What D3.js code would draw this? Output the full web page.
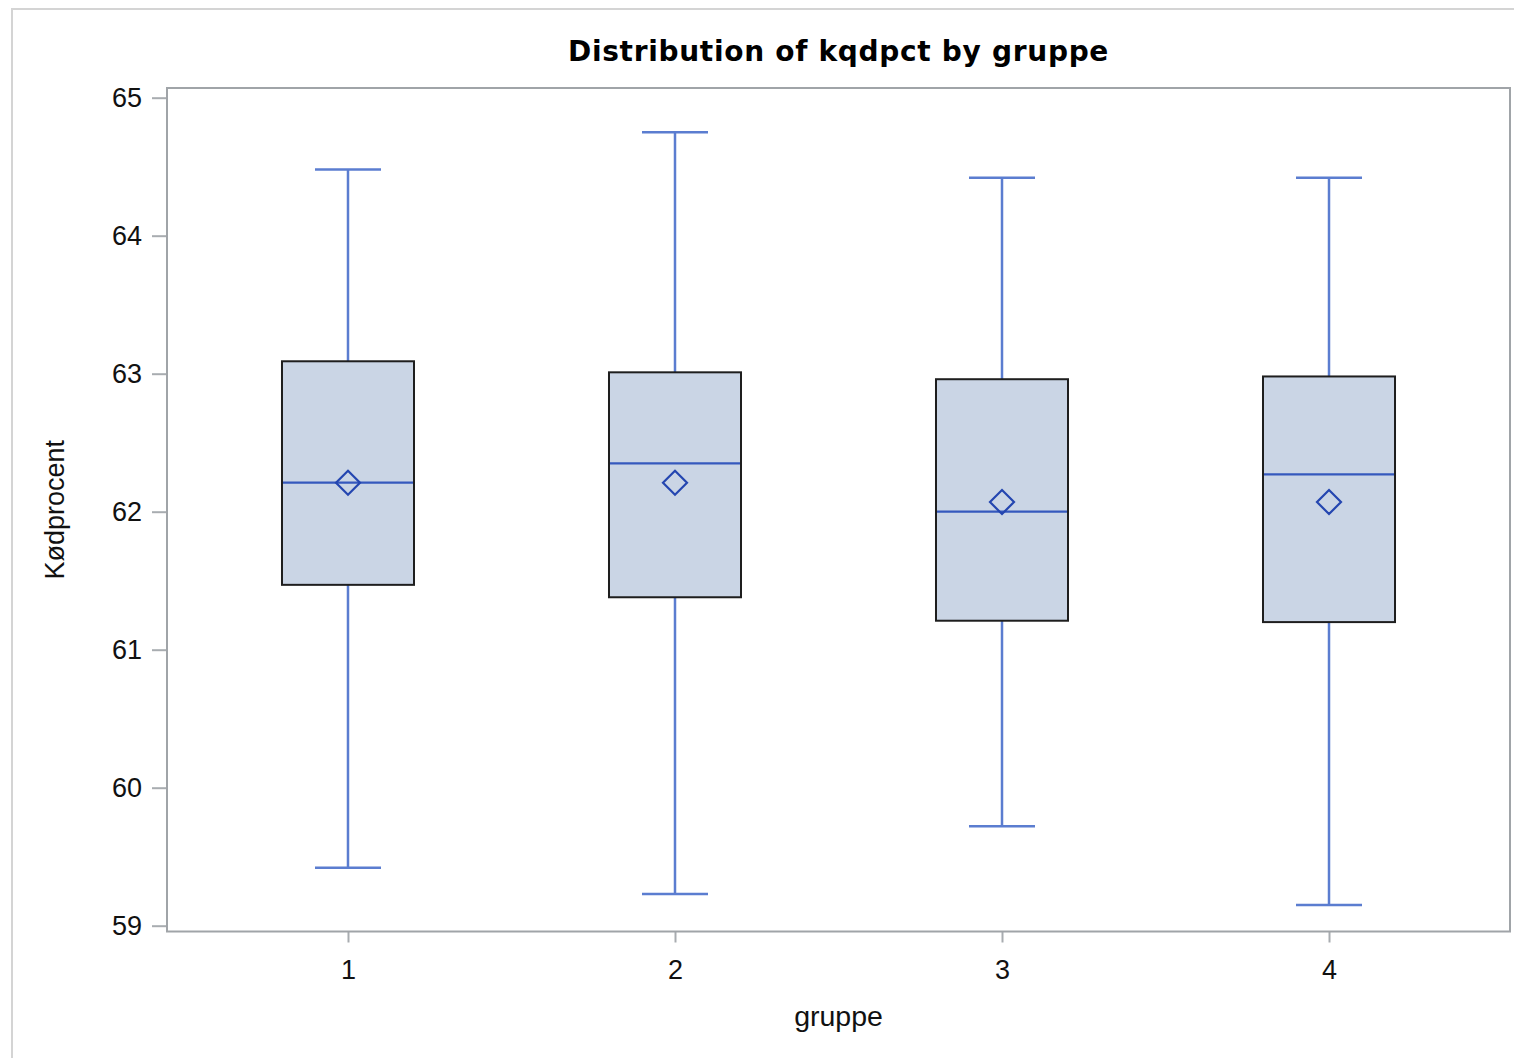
<!DOCTYPE html>
<html>
<head>
<meta charset="utf-8">
<script src="https://cdn.jsdelivr.net/npm/d3@7"></script>
<style>
  html, body { margin: 0; padding: 0; background: #fff; }
  svg { display: block; }
</style>
</head>
<body>
<svg id="chart" width="1514" height="1058"></svg>
<script>
const groups   = ["1", "2", "3", "4"];
const whiskLo  = [59.42, 59.23, 59.72, 59.15];
const q1       = [61.47, 61.38, 61.21, 61.20];
const medians  = [62.21, 62.35, 62.00, 62.27];
const q3       = [63.09, 63.01, 62.96, 62.98];
const whiskHi  = [64.48, 64.75, 64.42, 64.42];
const means    = [62.21, 62.21, 62.07, 62.07];
const yTicks   = [59, 60, 61, 62, 63, 64, 65];

const title = "Distribution of kqdpct by gruppe";
const xLabel = "gruppe";
const yLabel = "Kødprocent";

const svg = d3.select("#chart");
const W = 1514, H = 1058;
const frame = { left: 167, right: 1510, top: 88, bottom: 931.5 };

// outer border
svg.append("rect")
  .attr("x", 12).attr("y", 9)
  .attr("width", W).attr("height", H)
  .attr("fill", "none").attr("stroke", "#d4d4d4").attr("stroke-width", 2);

const x = d3.scalePoint().domain(groups).range([frame.left, frame.right]).padding(0.5535);
const y = d3.scaleLinear().domain([59, 65]).range([925.7, 97.7]);
const step = x.step();
const boxW = step * 0.4037;
const capW = boxW / 2;

const data = groups.map((g, i) => ({
  g, lo: whiskLo[i], q1: q1[i], med: medians[i], q3: q3[i], hi: whiskHi[i], mean: means[i]
}));

const font = "'Liberation Sans', Arial, sans-serif";

// title
svg.append("text")
  .attr("x", (frame.left + frame.right) / 2).attr("y", 61)
  .attr("text-anchor", "middle")
  .attr("font-family", "'DejaVu Sans', sans-serif")
  .attr("font-weight", "bold").attr("font-size", 28)
  .attr("letter-spacing", 0.7)
  .attr("fill", "#000")
  .text(title);

// axes
const yAxis = d3.axisLeft(y).tickValues(yTicks).tickSize(15).tickPadding(10).tickFormat(d3.format("d"));
const gy = svg.append("g").attr("transform", `translate(${frame.left},0)`).call(yAxis);
gy.select(".domain").remove();
gy.selectAll(".tick line").attr("stroke", "#a8acb0").attr("stroke-width", 2);
gy.selectAll(".tick text").attr("font-family", font).attr("font-size", 27).attr("fill", "#111");

const xAxis = d3.axisBottom(x).tickSize(11).tickPadding(17);
const gx = svg.append("g").attr("transform", `translate(0,${frame.bottom})`).call(xAxis);
gx.select(".domain").remove();
gx.selectAll(".tick line").attr("stroke", "#a8acb0").attr("stroke-width", 2);
gx.selectAll(".tick text").attr("font-family", font).attr("font-size", 27).attr("fill", "#111");

// frame
svg.append("rect")
  .attr("x", frame.left).attr("y", frame.top)
  .attr("width", frame.right - frame.left).attr("height", frame.bottom - frame.top)
  .attr("fill", "none").attr("stroke", "#a0a4a8").attr("stroke-width", 2);

// axis labels
svg.append("text")
  .attr("x", (frame.left + frame.right) / 2).attr("y", 1026)
  .attr("text-anchor", "middle")
  .attr("font-family", font).attr("font-size", 28.5).attr("fill", "#111")
  .text(xLabel);

svg.append("text")
  .attr("transform", `translate(64,${(frame.top + frame.bottom) / 2}) rotate(-90)`)
  .attr("text-anchor", "middle")
  .attr("font-family", font).attr("font-size", 27).attr("fill", "#111")
  .text(yLabel);

const whiskColor = "#5b7dd0";
const medColor = "#3558bd";
const meanColor = "#2446b0";

const gBox = svg.append("g");
const b = gBox.selectAll("g.box").data(data).join("g").attr("class", "box");

// whiskers
b.append("line")
  .attr("x1", d => x(d.g)).attr("x2", d => x(d.g))
  .attr("y1", d => y(d.hi)).attr("y2", d => y(d.q3))
  .attr("stroke", whiskColor).attr("stroke-width", 2.5);
b.append("line")
  .attr("x1", d => x(d.g)).attr("x2", d => x(d.g))
  .attr("y1", d => y(d.q1)).attr("y2", d => y(d.lo))
  .attr("stroke", whiskColor).attr("stroke-width", 2.5);
// caps
b.append("line")
  .attr("x1", d => x(d.g) - capW / 2).attr("x2", d => x(d.g) + capW / 2)
  .attr("y1", d => y(d.hi)).attr("y2", d => y(d.hi))
  .attr("stroke", whiskColor).attr("stroke-width", 2.5);
b.append("line")
  .attr("x1", d => x(d.g) - capW / 2).attr("x2", d => x(d.g) + capW / 2)
  .attr("y1", d => y(d.lo)).attr("y2", d => y(d.lo))
  .attr("stroke", whiskColor).attr("stroke-width", 2.5);

// box
b.append("rect")
  .attr("x", d => x(d.g) - boxW / 2).attr("width", boxW)
  .attr("y", d => y(d.q3)).attr("height", d => y(d.q1) - y(d.q3))
  .attr("fill", "#cad5e5").attr("stroke", "#1e1e1e").attr("stroke-width", 2);

// median
b.append("line")
  .attr("x1", d => x(d.g) - boxW / 2 + 1).attr("x2", d => x(d.g) + boxW / 2 - 1)
  .attr("y1", d => y(d.med)).attr("y2", d => y(d.med))
  .attr("stroke", medColor).attr("stroke-width", 2.2);

// mean diamond
const ds = 12;
b.append("path")
  .attr("d", d => {
    const cx = x(d.g), cy = y(d.mean);
    return `M${cx},${cy - ds}L${cx + ds},${cy}L${cx},${cy + ds}L${cx - ds},${cy}Z`;
  })
  .attr("fill", "none").attr("stroke", meanColor).attr("stroke-width", 2.2);
</script>
</body>
</html>
